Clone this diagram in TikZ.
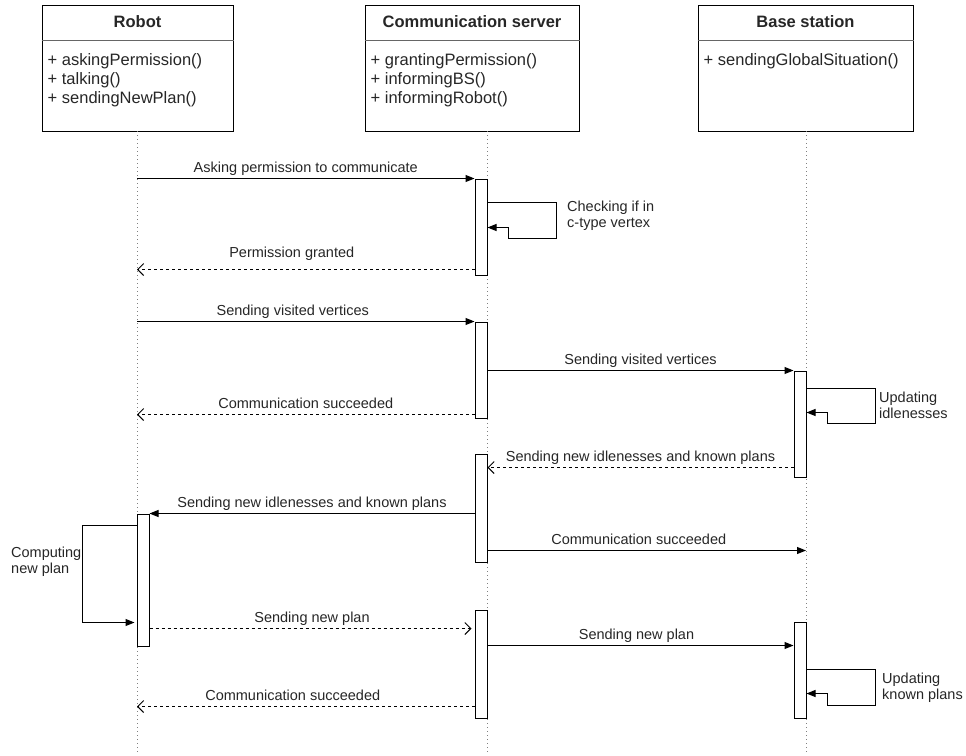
\documentclass[tikz,border=0pt]{standalone}
\usepackage{fontspec}
\setmainfont{Liberation Sans}
\usetikzlibrary{arrows.meta}
\begin{document}
\begin{tikzpicture}[x=1pt,y=-1pt,
  cls/.style={draw,line width=1pt,minimum height=126pt,inner sep=0pt},
  ttl/.style={anchor=base,inner sep=0pt,font=\fontsize{16.5}{19}\selectfont\bfseries,text=black!85},
  meth/.style={anchor=north west,inner sep=0pt,align=left,font=\fontsize{16.5}{19}\selectfont,text=black!85},
  life/.style={gray,line width=1pt,dash pattern=on 1pt off 3pt},
  bar/.style={draw,fill=white,line width=1pt,minimum width=12pt,inner sep=0pt},
  msg/.style={line width=1pt,-{Triangle[length=9pt,width=7pt]}},
  ret/.style={line width=1pt,dash pattern=on 3pt off 3pt,-{Straight Barb[length=6pt,width=12pt]}},
  lbl/.style={midway,anchor=base,yshift=6pt,inner sep=0pt,font=\fontsize{14.5}{16}\selectfont,text=black!85},
  note/.style={anchor=north west,inner sep=0pt,align=left,font=\fontsize{14.5}{16}\selectfont,text=black!85}]

\useasboundingbox (0,0) rectangle (966,755);

\node[cls,minimum width=191pt] (robot) at (137.5,68) {};
\node[cls,minimum width=214pt] (server) at (472,68) {};
\node[cls,minimum width=215pt] (base) at (805.5,68) {};
\foreach \b/\t in {robot/Robot,server/Communication server,base/Base station} {
  \node[ttl] (\b t) at ([yshift=-23pt]\b.north) {\t};
  \draw[black!60,line width=0.8pt] ([yshift=-36pt]\b.north west) -- ([yshift=-36pt]\b.north east);
}
\node[meth] (robotm) at ([xshift=6pt,yshift=-49pt]robot.north west) {+ askingPermission()\\+ talking()\\+ sendingNewPlan()};
\node[meth] (serverm) at ([xshift=6pt,yshift=-49pt]server.north west) {+ grantingPermission()\\+ informingBS()\\+ informingRobot()};
\node[meth] (basem) at ([xshift=6pt,yshift=-49pt]base.north west) {+ sendingGlobalSituation()};

\coordinate (rtop) at (137,131);
\coordinate (rbot) at (137,755);
\coordinate (stop) at (487,131);
\coordinate (sbot) at (487,755);
\coordinate (btop) at (806,131);
\coordinate (bbot) at (806,755);
\draw[life] (rtop) -- (rbot);
\draw[life] (stop) -- (sbot);
\draw[life] (btop) -- (bbot);

\node[bar,minimum height=96pt] (s1) at (481,227) {};
\node[bar,minimum height=96pt] (s2) at (481,370) {};
\node[bar,minimum height=108pt] (s3) at (481,508) {};
\node[bar,minimum height=108pt] (s4) at (481,664) {};
\node[bar,minimum height=106pt] (b1) at (800,424) {};
\node[bar,minimum height=96pt] (b2) at (800,670) {};
\node[bar,minimum height=132pt] (r1) at (143,580) {};

\draw[msg] (rtop |- s1.north) -- (s1.north west) node[lbl]{Asking permission to communicate};
\draw[msg] ([yshift=-24pt]s1.north east) -- ++(69,0) -- ++(0,36) -- ++(-48,0) |- ([yshift=-49pt]s1.north east);
\node[note] (n1) at (567,201) {Checking if in\\c-type vertex};
\draw[ret] ([yshift=6pt]s1.south west) -- ([yshift=6pt]rtop |- s1.south) node[lbl,yshift=6pt,xshift=-14pt]{Permission granted};

\draw[msg] (rtop |- s2.north) -- (s2.north west) node[lbl,xshift=-13pt]{Sending visited vertices};
\draw[msg] (s2.east |- b1.north) -- (b1.north west) node[lbl]{Sending visited vertices};
\draw[msg] ([yshift=-18pt]b1.north east) -- ++(69,0) -- ++(0,35) -- ++(-48,0) |- ([yshift=-42pt]b1.north east);
\node[note] (n2) at (879,392) {Updating\\idlenesses};
\draw[ret] ([yshift=4pt]s2.south west) -- ([yshift=4pt]rtop |- s2.south) node[lbl]{Communication succeeded};

\draw[ret] ([yshift=10pt]b1.south west) -- ([yshift=10pt]s3.east |- b1.south) node[lbl]{Sending new idlenesses and known plans};
\draw[msg] (s3.west |- r1.north) -- (r1.north east) node[lbl]{Sending new idlenesses and known plans};
\draw[msg] ([yshift=12pt]s3.south east) -- ([yshift=12pt]btop |- s3.south) node[lbl,xshift=-8pt]{Communication succeeded};
\draw[msg,shorten >=2pt] ([yshift=-12pt]r1.north west) -- ++(-54,0) |- ([yshift=24pt]r1.south west);
\node[note] (n3) at (11,547) {Computing\\new plan};

\draw[ret,shorten >=3pt] ([yshift=18pt]r1.south east) -- ([yshift=18pt]s4.west |- r1.south) node[lbl]{Sending new plan};
\draw[msg] ([yshift=-24pt]s4.east |- b2.north) -- ([yshift=-24pt]b2.north west) node[lbl,xshift=-4pt]{Sending new plan};
\draw[msg] ([yshift=-48pt]b2.north east) -- ++(69,0) -- ++(0,36) -- ++(-48,0) |- ([yshift=-72pt]b2.north east);
\node[note] (n4) at (882,673) {Updating\\known plans};
\draw[ret] ([yshift=12pt]s4.south west) -- ([yshift=12pt]rtop |- s4.south) node[lbl,xshift=-13pt]{Communication succeeded};
\end{tikzpicture}
\end{document}
